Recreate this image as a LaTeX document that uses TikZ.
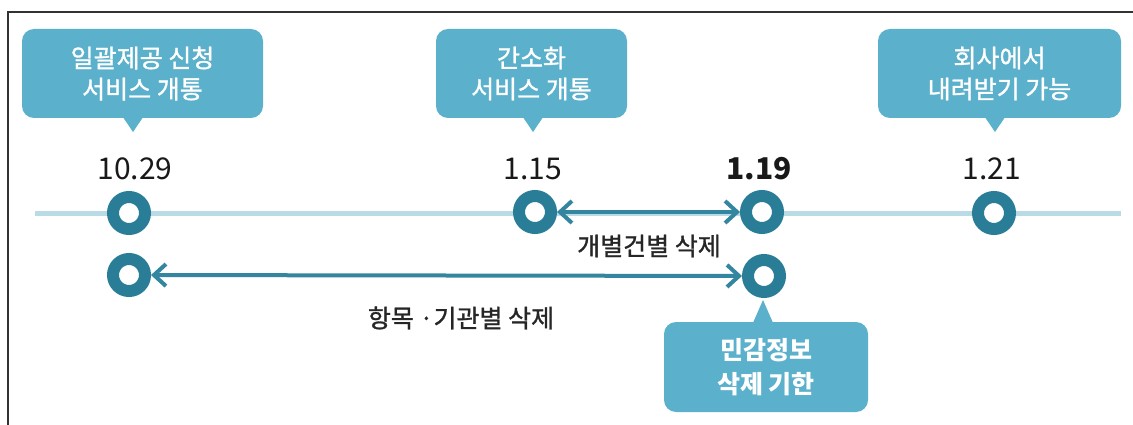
\documentclass[tikz,border=0pt]{standalone}
\usepackage{fontspec}
\setmainfont{Noto Sans CJK KR}
\newfontfamily\medfont{Noto Sans CJK KR}[RawFeature={embolden=1.2}]
\usetikzlibrary{arrows.meta}
\usetikzlibrary{calc}
\definecolor{boxcol}{RGB}{91,176,203}
\definecolor{ringcol}{RGB}{41,125,151}
\definecolor{spancol}{RGB}{52,134,160}
\definecolor{linecol}{RGB}{184,219,229}
\definecolor{framecol}{RGB}{50,50,50}
\tikzset{>={Straight Barb[length=12pt,width=22pt]}}
\tikzset{
  ring/.style={circle,draw=ringcol,line width=12pt,fill=white,
               minimum size=32pt,inner sep=0pt},
  date/.style={font=\fontsize{30}{36}\selectfont,text=black!90},
  callout/.style={fill=boxcol,rounded corners=12pt,text=white,align=center,
                  inner sep=0pt,font=\fontsize{25}{31}\selectfont\medfont},
  span/.style={<->,line width=4pt,draw=spancol},
  deletion/.style={font=\fontsize{25}{30}\selectfont\medfont,text=black!85}}
\newcommand\calloutTip[4]{% box, tip, side, overlap
  \fill[boxcol] ($(#2 |- #1.#3)+(-10,#4)$) -- (#2) -- ($(#2 |- #1.#3)+(10,#4)$) -- cycle;
}

\begin{document}
\begin{tikzpicture}[x=1pt,y=-1pt]
  \useasboundingbox (0,0) rectangle (1133,425);

  % FRAME
  \draw[framecol,line width=1.5pt] (8,425) -- (8,12) -- (1133,12);

  % TIMELINE
  \coordinate (start) at (35,213);   % left end
  \coordinate (end) at (1121,213);   % right end
  \draw[linecol,line width=5pt] (start) -- (end);

  % RINGS
  \node[ring] (r1029) at (129,213) {};
  \node[ring] (r115)  at (535,212) {};
  \node[ring] (r119)  at (762,212) {};
  \node[ring] (r121)  at (994,213) {};
  \node[ring] (s1029) at (129,275) {}; % second row
  \node[ring] (s119)  at (764,276) {};

  % DATES
  \node[date] (d1029) at (135,169) {10.29};
  \node[date] (d115)  at (533,169) {1.15};
  \node[date] (d119)  at (759,169) {\bfseries 1.19};
  \node[date] (d121)  at (992,169) {1.21};

  % SPANS
  \draw[span] (r115) -- (r119);
  \draw[span] (s1029) -- (s119);
  \node[deletion] (l1) at (649,246) {개별건별 삭제};
  \node[deletion] (l2) at (461,318) {항목 ·기관별 삭제};

  % CALLOUTS
  \node[callout,minimum width=241pt,minimum height=89pt] (c1) at (142.5,73.5)
    {일괄제공 신청\\서비스 개통};
  \node[callout,minimum width=191pt,minimum height=89pt] (c2) at (531.5,73.5)
    {간소화\\서비스 개통};
  \node[callout,minimum width=243pt,minimum height=89pt] (c3) at (999.5,73.5)
    {회사에서\\내려받기 가능};
  \node[callout,minimum width=204pt,minimum height=90pt,
        font=\fontsize{25}{34}\selectfont\bfseries] (c4) at (766,367)
    {민감정보\\삭제 기한};
  \coordinate (t1) at (133,132);
  \coordinate (t2) at (533,132);
  \coordinate (t3) at (995,132);
  \coordinate (t4) at (763,300);
  \calloutTip{c1}{t1}{south}{-1}
  \calloutTip{c2}{t2}{south}{-1}
  \calloutTip{c3}{t3}{south}{-1}
  \calloutTip{c4}{t4}{north}{1}

\end{tikzpicture}
\end{document}
